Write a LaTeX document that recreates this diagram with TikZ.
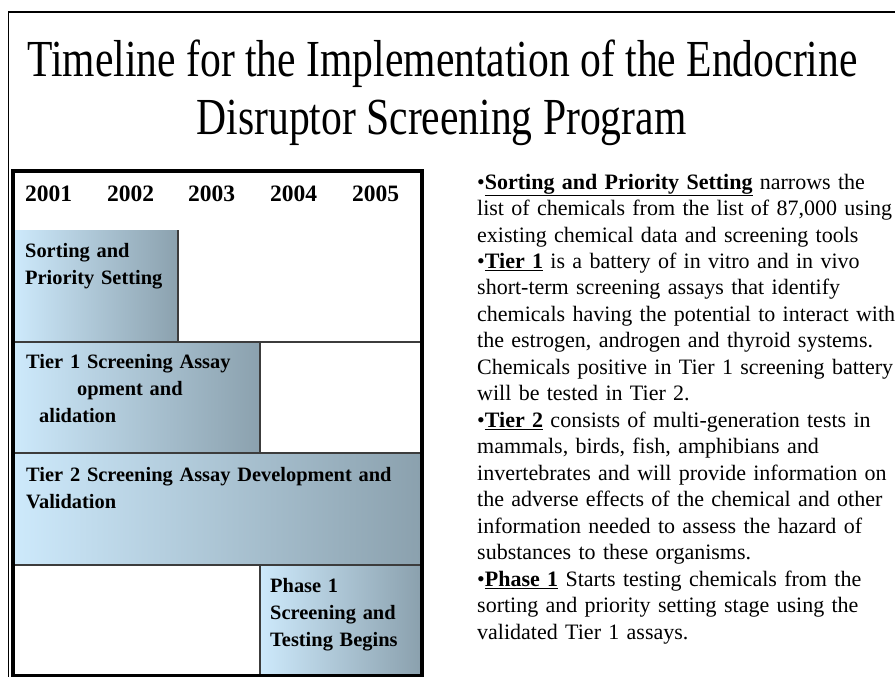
\documentclass[tikz,border=0pt]{standalone}
\usepackage{fontspec}
\usepackage{graphicx}
\setmainfont{Liberation Serif}
\definecolor{cellA}{RGB}{205,233,251}
\definecolor{cellB}{RGB}{139,161,174}
\definecolor{gridline}{RGB}{60,60,60}
\begin{document}
\begin{tikzpicture}[x=1pt,y=-1pt,
  cellbox/.style={draw=none, inner sep=0pt, outer sep=0pt, anchor=north west,
    left color=cellA, right color=cellB},
  celltext/.style={anchor=base west, inner sep=0pt, text width=500pt, align=left,
    font=\fontsize{20.4}{27}\selectfont\bfseries},
  yeartext/.style={anchor=base west, inner sep=0pt, font=\fontsize{23.5}{28}\selectfont\bfseries},
  titletext/.style={anchor=base, inner sep=0pt, font=\fontsize{52}{58}\selectfont},
  grid/.style={draw=gridline, line width=1.5pt},
  notes/.style={anchor=base west, inner sep=0pt, text width=600pt, align=left,
    font=\fontsize{22}{26.5}\selectfont}]
\useasboundingbox (0,0) rectangle (895,677);
\fill[white] (0,0) rectangle (895,677);

% outer frame (open to the right and bottom)
\draw[line width=1.5pt] (8.5,677) -- (8.5,12) -- (895,12);

% title, set in a horizontally condensed serif
\node[titletext] (title1) at (442.5,77)
  {\scalebox{0.80}[1]{Timeline for the Implementation of the Endocrine}};
\node[titletext] (title2) at (441.5,135)
  {\scalebox{0.80}[1]{Disruptor Screening Program}};

% shaded timeline cells
\node[cellbox, minimum width=163pt, minimum height=112pt] (sort) at (15,230) {};
\node[cellbox, minimum width=245pt, minimum height=111pt] (tierone) at (15,342) {};
\node[cellbox, minimum width=405pt, minimum height=112pt] (tiertwo) at (15,453) {};
\node[cellbox, minimum width=160pt, minimum height=110pt] (phase) at (260,565) {};

% cell borders
\draw[grid] (sort.north east) -- (sort.south east);
\draw[grid] (tierone.north west) -- (tierone.north west -| 420,0);
\draw[grid] (tierone.north east) -- (tierone.south east);
\draw[grid] (tiertwo.north west) -- (tiertwo.north west -| 420,0);
\draw[grid] (tiertwo.south west) -- (tiertwo.south west -| 420,0);
\draw[grid] (phase.north west) -- (phase.south west);

% table frame
\draw[line width=4pt] (13,170.5) rectangle (422,675.5);

% year header
\node[yeartext] (y1) at (25,201) {2001};
\node[yeartext] (y2) at (107,201) {2002};
\node[yeartext] (y3) at (188,201) {2003};
\node[yeartext] (y4) at (270,201) {2004};
\node[yeartext] (y5) at (352,201) {2005};

% cell labels
\node[celltext] (sorttxt) at (25,257) {Sorting and\\Priority Setting};
\node[celltext] (t1a) at (26,368) {Tier 1 Screening Assay};
\node[celltext] (t1b) at (77,395) {opment and};
\node[celltext] (t1c) at (39,422) {alidation};
\node[celltext] (t2txt) at (26,481) {Tier 2 Screening Assay Development and\\Validation};
\node[celltext] (phasetxt) at (270,592) {Phase 1\\Screening and\\Testing Begins};

% explanatory notes
\node[notes] (notestxt) at (477,189) {%
•\underline{\textbf{Sorting and Priority Setting}} narrows the\\
list of chemicals from the list of 87,000 using\\
existing chemical data and screening tools\\
•\underline{\textbf{Tier 1}} is a battery of in vitro and in vivo\\
short-term screening assays that identify\\
chemicals having the potential to interact with\\
the estrogen, androgen and thyroid systems.\\
Chemicals positive in Tier 1 screening battery\\
will be tested in Tier 2.\\
•\underline{\textbf{Tier 2}} consists of multi-generation tests in\\
mammals, birds, fish, amphibians and\\
invertebrates and will provide information on\\
the adverse effects of the chemical and other\\
information needed to assess the hazard of\\
substances to these organisms.\\
•\underline{\textbf{Phase 1}} Starts testing chemicals from the\\
sorting and priority setting stage using the\\
validated Tier 1 assays.};
\end{tikzpicture}
\end{document}
